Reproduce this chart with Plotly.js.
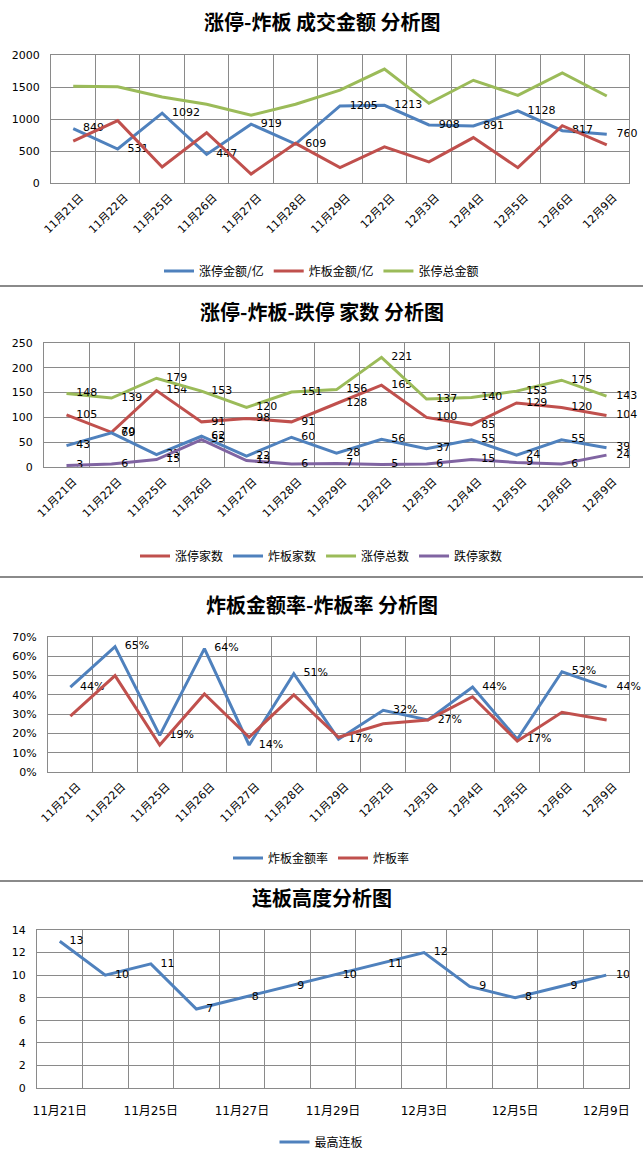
<!DOCTYPE html>
<html><head><meta charset="utf-8">
<script src="https://cdn.plot.ly/plotly-3.0.1.min.js"></script>
<style>html,body{margin:0;padding:0;background:#fff;}#chart{width:643px;height:1163px;}</style>
</head><body><div id="chart"></div>
<script>
// ---- data ----
const dates = ['11月21日','11月22日','11月25日','11月26日','11月27日','11月28日','11月29日','12月2日','12月3日','12月4日','12月5日','12月6日','12月9日'];

// panel 1: 成交金额 (亿)
const ztAmount   = [849, 531, 1092, 447, 919, 609, 1205, 1213, 908, 891, 1128, 817, 760];
const zbAmount   = [655, 975, 250, 785, 140, 620, 240, 565, 330, 710, 240, 895, 595];
const ztTotalAmt = [1510, 1505, 1345, 1230, 1060, 1230, 1450, 1780, 1245, 1605, 1370, 1720, 1360];

// panel 2: 家数
const ztCount    = [105, 70, 154, 91, 98, 91, 128, 165, 100, 85, 129, 120, 104];
const zbCount    = [43, 69, 25, 62, 22, 60, 28, 56, 37, 55, 24, 55, 39];
const ztTotalCnt = [148, 139, 179, 153, 120, 151, 156, 221, 137, 140, 153, 175, 143];
const dtCount    = [3, 6, 15, 55, 13, 6, 7, 5, 6, 15, 9, 6, 24];

// panel 3: 比率
const zbAmtRate  = [0.44, 0.65, 0.19, 0.64, 0.14, 0.51, 0.17, 0.32, 0.27, 0.44, 0.17, 0.52, 0.44];
const zbRate     = [0.29, 0.50, 0.14, 0.405, 0.18, 0.40, 0.18, 0.25, 0.27, 0.39, 0.16, 0.31, 0.27];

// panel 4: 最高连板
const maxBoard   = [13, 10, 11, 7, 8, 9, 10, 11, 12, 9, 8, 9, 10];

// ---- style ----
const BLUE='#4F81BD', RED='#C0504D', GREEN='#9BBB59', PURPLE='#8064A2';
const FONT='DejaVu Sans, Noto Sans CJK SC, sans-serif';
const GRID='#8a8a8a';
const H=1163, W=643;
const py = p => 1 - p/H;
const px = p => p/W;

function line(x, y, name, color, xa, ya, lg, labels){
  const t = {x:x, y:y, name:name, type:'scatter', mode: labels ? 'lines+markers+text' : 'lines',
    line:{color:color, width:3}, xaxis:xa, yaxis:ya, legend:lg, cliponaxis:false,
    marker:{size:14, color:'rgba(0,0,0,0)'},
    textposition:'middle right', textfont:{family:FONT, size:11, color:'#000'}, hoverinfo:'skip'};
  if (labels) t.text = labels;
  return t;
}
const str = a => a.map(v => String(v));
const pct = a => a.map(v => Math.round(v*100) + '%');

const traces = [
  line(dates, ztAmount, '涨停金额/亿', BLUE, 'x', 'y', 'legend', str(ztAmount)),
  line(dates, zbAmount, '炸板金额/亿', RED, 'x', 'y', 'legend', null),
  line(dates, ztTotalAmt, '张停总金额', GREEN, 'x', 'y', 'legend', null),

  line(dates, ztCount, '涨停家数', RED, 'x2', 'y2', 'legend2', str(ztCount)),
  line(dates, zbCount, '炸板家数', BLUE, 'x2', 'y2', 'legend2', str(zbCount)),
  line(dates, ztTotalCnt, '涨停总数', GREEN, 'x2', 'y2', 'legend2', str(ztTotalCnt)),
  line(dates, dtCount, '跌停家数', PURPLE, 'x2', 'y2', 'legend2', str(dtCount)),

  line(dates, zbAmtRate, '炸板金额率', BLUE, 'x3', 'y3', 'legend3', pct(zbAmtRate)),
  line(dates, zbRate, '炸板率', RED, 'x3', 'y3', 'legend3', null),

  line(dates, maxBoard, '最高连板', BLUE, 'x4', 'y4', 'legend4', str(maxBoard)),
];

function xax(domain, anchor, extra){
  return Object.assign({domain:domain, anchor:anchor, type:'category', range:[-0.5,12.5],
    tickson:'boundaries', ticks:'', showgrid:true, gridcolor:GRID, gridwidth:1,
    showline:true, linecolor:GRID, linewidth:1, mirror:true, tickangle:-45,
    ticklabelshift:7, ticklabelstandoff:3,
    tickfont:{family:FONT, size:11, color:'#000'}, fixedrange:true, zeroline:false}, extra||{});
}
function yax(domain, anchor, range, dtick, extra){
  return Object.assign({domain:domain, anchor:anchor, range:range, dtick:dtick, tick0:0,
    showgrid:true, gridcolor:GRID, gridwidth:1, showline:true, linecolor:GRID, mirror:true,
    zeroline:false, ticks:'', ticklabelstandoff:8,
    tickfont:{family:FONT, size:11, color:'#000'}, fixedrange:true}, extra||{});
}
function legend(yPix){
  return {orientation:'h', x:0.5, xanchor:'center', y:py(yPix), yanchor:'middle',
    font:{family:'Noto Sans CJK SC, sans-serif', size:12, color:'#000'}, bgcolor:'rgba(0,0,0,0)'};
}
function title(text, yPix){
  return {text:'<b>'+text+'</b>', xref:'paper', yref:'paper', x:0.5, y:py(yPix),
    xanchor:'center', yanchor:'middle', showarrow:false,
    font:{family:'Noto Sans CJK SC, sans-serif', size:20, color:'#000'}};
}
const sep = yPix => ({type:'line', xref:'paper', yref:'paper', x0:0, x1:1, y0:py(yPix), y1:py(yPix),
  line:{color:'#8a8a8a', width:2}});

const layout = {
  width:W, height:H, margin:{l:0, r:0, t:0, b:0}, paper_bgcolor:'#fff', plot_bgcolor:'#fff',
  showlegend:true, font:{family:FONT},
  xaxis:  xax([px(51), px(629)], 'y'),
  yaxis:  yax([py(183), py(55)], 'x', [0,2000], 500),
  xaxis2: xax([px(44), px(629)], 'y2'),
  yaxis2: yax([py(467), py(343)], 'x2', [0,250], 50),
  xaxis3: xax([px(48), px(629)], 'y3'),
  yaxis3: yax([py(772), py(637)], 'x3', [0,0.7], 0.1, {tickformat:'.0%'}),
  xaxis4: xax([px(37), px(629)], 'y4', {tickangle:0, ticklabelshift:0, ticklabelstandoff:12,
            tickmode:'array', tickvals:dates,
            ticktext:dates.map((d,i)=> i%2===0 ? d : ''), tickfont:{family:FONT, size:12, color:'#000'}}),
  yaxis4: yax([py(1088), py(930)], 'x4', [0,14], 2),
  legend:  legend(271),
  legend2: legend(556),
  legend3: legend(858),
  legend4: legend(1142),
  annotations:[
    title('涨停-炸板 成交金额 分析图', 22),
    title('涨停-炸板-跌停 家数 分析图', 311),
    title('炸板金额率-炸板率 分析图', 604),
    title('连板高度分析图', 897),
  ],
  shapes:[sep(286), sep(577), sep(881)]
};

Plotly.newPlot('chart', traces, layout, {staticPlot:true, displayModeBar:false});
</script></body></html>
